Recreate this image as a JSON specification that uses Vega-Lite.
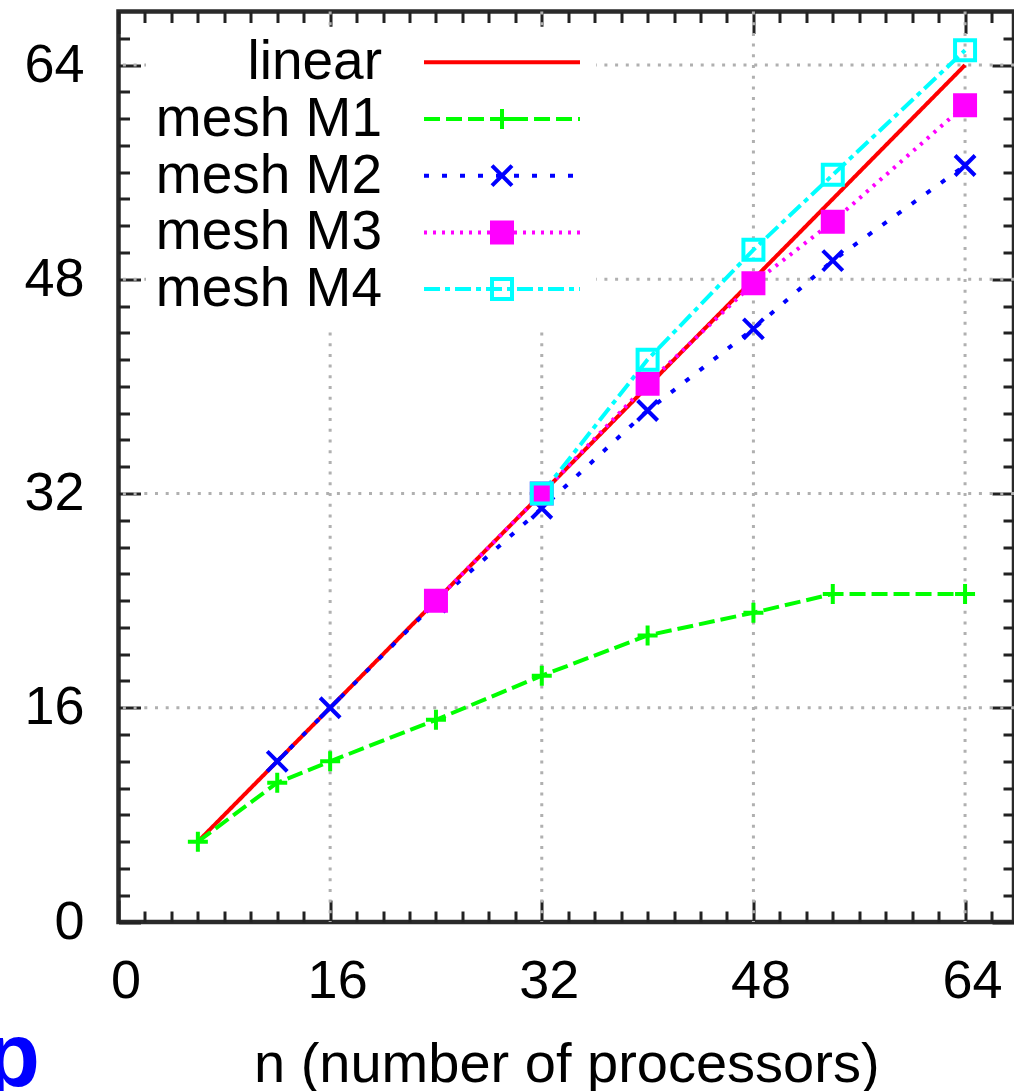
{
  "$schema": "https://vega.github.io/schema/vega-lite/v6.json",
  "width": 895.5,
  "height": 910.5,
  "autosize": {"type": "none"},
  "padding": {"left": 118.5, "top": 11.5, "right": 0, "bottom": 169},
  "background": "white",
  "config": {
    "view": {"stroke": "#2a2a2a", "strokeWidth": 4.5},
    "axis": {"grid": false, "domain": false, "zindex": 1, "tickColor": "#222222", "tickWidth": 3,
             "labelFont": "Liberation Sans", "labelFontSize": 54, "labelColor": "black",
             "titleFont": "Liberation Sans", "titleFontSize": 56, "titleFontWeight": "normal", "titleColor": "black"}
  },
  "title": {"text": "p", "orient": "bottom", "anchor": "start", "frame": "group", "font": "Liberation Sans", "fontSize": 90, "fontWeight": "bold", "color": "#0000ff", "baseline": "alphabetic", "dx": -133.5, "offset": -6},
  "datasets": {
    "main": [
      {"series": "linear", "n": 6, "speedup": 6},
      {"series": "linear", "n": 64, "speedup": 64},
      {"series": "mesh M1", "n": 6, "speedup": 6},
      {"series": "mesh M1", "n": 12, "speedup": 10.4},
      {"series": "mesh M1", "n": 16, "speedup": 12},
      {"series": "mesh M1", "n": 24, "speedup": 15.1},
      {"series": "mesh M1", "n": 32, "speedup": 18.4},
      {"series": "mesh M1", "n": 40, "speedup": 21.4},
      {"series": "mesh M1", "n": 48, "speedup": 23.1},
      {"series": "mesh M1", "n": 54, "speedup": 24.5},
      {"series": "mesh M1", "n": 64, "speedup": 24.5},
      {"series": "mesh M2", "n": 12, "speedup": 12},
      {"series": "mesh M2", "n": 16, "speedup": 16},
      {"series": "mesh M2", "n": 24, "speedup": 23.9},
      {"series": "mesh M2", "n": 32, "speedup": 30.9},
      {"series": "mesh M2", "n": 40, "speedup": 38.2},
      {"series": "mesh M2", "n": 48, "speedup": 44.3},
      {"series": "mesh M2", "n": 54, "speedup": 49.4},
      {"series": "mesh M2", "n": 64, "speedup": 56.5},
      {"series": "mesh M3", "n": 24, "speedup": 24},
      {"series": "mesh M3", "n": 32, "speedup": 32},
      {"series": "mesh M3", "n": 40, "speedup": 40.2},
      {"series": "mesh M3", "n": 48, "speedup": 47.7},
      {"series": "mesh M3", "n": 54, "speedup": 52.3},
      {"series": "mesh M3", "n": 64, "speedup": 61.0},
      {"series": "mesh M4", "n": 32, "speedup": 32},
      {"series": "mesh M4", "n": 40, "speedup": 42},
      {"series": "mesh M4", "n": 48, "speedup": 50.2},
      {"series": "mesh M4", "n": 54, "speedup": 55.8},
      {"series": "mesh M4", "n": 64, "speedup": 65.1}
    ],
    "grid": [{"g": 16}, {"g": 32}, {"g": 48}, {"g": 64}]
  },
  "layer": [
    {
      "data": {"name": "grid"},
      "mark": {"type": "rule", "color": "#b0b0b0", "strokeWidth": 3, "strokeDash": [3, 7.7]},
      "encoding": {"x": {"field": "g", "type": "quantitative", "axis": null}}
    },
    {
      "data": {"name": "grid"},
      "mark": {"type": "rule", "color": "#b0b0b0", "strokeWidth": 3, "strokeDash": [3, 7.7]},
      "encoding": {"y": {"field": "g", "type": "quantitative", "axis": null}}
    },
    {
      "data": {"name": "main"},
      "mark": {"type": "line", "strokeWidth": 4},
      "encoding": {
        "x": {"field": "n", "type": "quantitative", "scale": {"domain": [0, 67.7], "nice": false, "zero": false},
              "axis": {"orient": "bottom", "values": [0,2,4,6,8,10,12,14,16,18,20,22,24,26,28,30,32,34,36,38,40,42,44,46,48,50,52,54,56,58,60,62,64,66],
                       "labelExpr": "datum.value % 16 === 0 ? datum.label : ''",
                       "tickSize": {"condition": {"test": "datum.value % 16 === 0", "value": -22}, "value": -11},
                       "labelPadding": 54, "labelOffset": 7, "labelFlush": false, "labelOverlap": false,
                       "title": "n (number of processors)", "titlePadding": 18}},
        "y": {"field": "speedup", "type": "quantitative", "scale": {"domain": [0, 68], "nice": false, "zero": false},
              "axis": {"orient": "left", "values": [0,2,4,6,8,10,12,14,16,18,20,22,24,26,28,30,32,34,36,38,40,42,44,46,48,50,52,54,56,58,60,62,64,66],
                       "labelExpr": "datum.value % 16 === 0 ? datum.label : ''",
                       "tickSize": {"condition": {"test": "datum.value % 16 === 0", "value": -22}, "value": -11},
                       "labelPadding": 56.5, "labelFlush": false, "labelOverlap": false, "title": null}},
        "color": {"field": "series", "type": "nominal",
                  "scale": {"domain": ["linear", "mesh M1", "mesh M2", "mesh M3", "mesh M4"], "range": ["#ff0000", "#00ff00", "#0000ff", "#ff00ff", "#00ffff"]},
                  "legend": {"orient": "none", "legendX": 27.5, "legendY": 15.3, "title": null, "symbolType": "M-4,0H4", "symbolSize": 1521, "symbolStrokeWidth": 4, "symbolOffset": 320.5,
                             "labelFont": "Liberation Sans", "labelFontSize": 55, "labelColor": "black", "labelAlign": "right", "labelOffset": -147.5, "labelLimit": 500,
                             "rowPadding": 0.7, "padding": 8, "fillColor": "white", "zindex": 0}},
        "strokeDash": {"field": "series", "type": "nominal",
                  "scale": {"domain": ["linear", "mesh M1", "mesh M2", "mesh M3", "mesh M4"], "range": [[1, 0], [16, 6], [5, 13], [3, 6], [16, 5, 5, 5]]},
                  "legend": {"orient": "none", "legendX": 27.5, "legendY": 15.3, "title": null, "symbolType": "M-4,0H4", "symbolSize": 1521, "symbolStrokeWidth": 4, "symbolOffset": 320.5,
                             "labelFont": "Liberation Sans", "labelFontSize": 55, "labelColor": "black", "labelAlign": "right", "labelOffset": -147.5, "labelLimit": 500,
                             "rowPadding": 0.7, "padding": 8, "fillColor": "white", "zindex": 0}}
      }
    },
    {
      "data": {"name": "main"},
      "transform": [{"filter": "datum.series !== 'linear'"}],
      "mark": {"type": "point", "filled": true, "size": 400, "strokeWidth": 4, "opacity": 1},
      "encoding": {
        "x": {"field": "n", "type": "quantitative",
              "axis": {"orient": "top", "values": [0,2,4,6,8,10,12,14,16,18,20,22,24,26,28,30,32,34,36,38,40,42,44,46,48,50,52,54,56,58,60,62,64,66],
                       "labels": false, "title": null,
                       "tickSize": {"condition": {"test": "datum.value % 16 === 0", "value": -22}, "value": -11}}},
        "y": {"field": "speedup", "type": "quantitative",
              "axis": {"orient": "right", "values": [0,2,4,6,8,10,12,14,16,18,20,22,24,26,28,30,32,34,36,38,40,42,44,46,48,50,52,54,56,58,60,62,64,66],
                       "labels": false, "title": null,
                       "tickSize": {"condition": {"test": "datum.value % 16 === 0", "value": -22}, "value": -11}}},
        "stroke": {"field": "series", "type": "nominal",
                   "scale": {"domain": ["linear", "mesh M1", "mesh M2", "mesh M4", "mesh M3"], "range": ["#ff0000", "#00ff00", "#0000ff", "#00ffff", "#ff00ff"]},
                   "legend": {"orient": "none", "legendX": 27.5, "legendY": 15.3, "title": null, "values": ["linear", "mesh M1", "mesh M2", "mesh M3", "mesh M4"],
                              "symbolSize": 400, "symbolStrokeWidth": 4, "symbolOffset": 320.5,
                              "labelFont": "Liberation Sans", "labelFontSize": 55, "labelOpacity": 0, "labelLimit": 500,
                              "rowPadding": 0.7, "padding": 8, "zindex": 1}},
        "fill": {"field": "series", "type": "nominal",
                 "scale": {"domain": ["linear", "mesh M1", "mesh M2", "mesh M4", "mesh M3"], "range": ["transparent", "transparent", "transparent", "transparent", "#ff00ff"]},
                 "legend": {"orient": "none", "legendX": 27.5, "legendY": 15.3, "title": null, "values": ["linear", "mesh M1", "mesh M2", "mesh M3", "mesh M4"],
                            "symbolSize": 400, "symbolStrokeWidth": 4, "symbolOffset": 320.5,
                            "labelFont": "Liberation Sans", "labelFontSize": 55, "labelOpacity": 0, "labelLimit": 500,
                            "rowPadding": 0.7, "padding": 8, "zindex": 1}},
        "shape": {"field": "series", "type": "nominal",
                  "scale": {"domain": ["linear", "mesh M1", "mesh M2", "mesh M4", "mesh M3"], "range": ["M0,0", "M-1,0H1M0,-1V1", "M-1,-1L1,1M-1,1L1,-1", "square", "square"]},
                  "legend": {"orient": "none", "legendX": 27.5, "legendY": 15.3, "title": null, "values": ["linear", "mesh M1", "mesh M2", "mesh M3", "mesh M4"],
                             "symbolSize": 400, "symbolStrokeWidth": 4, "symbolOffset": 320.5,
                             "labelFont": "Liberation Sans", "labelFontSize": 55, "labelOpacity": 0, "labelLimit": 500,
                             "rowPadding": 0.7, "padding": 8, "zindex": 1}}
      }
    }
  ],
  "resolve": {"axis": {"x": "independent", "y": "independent"}}
}
